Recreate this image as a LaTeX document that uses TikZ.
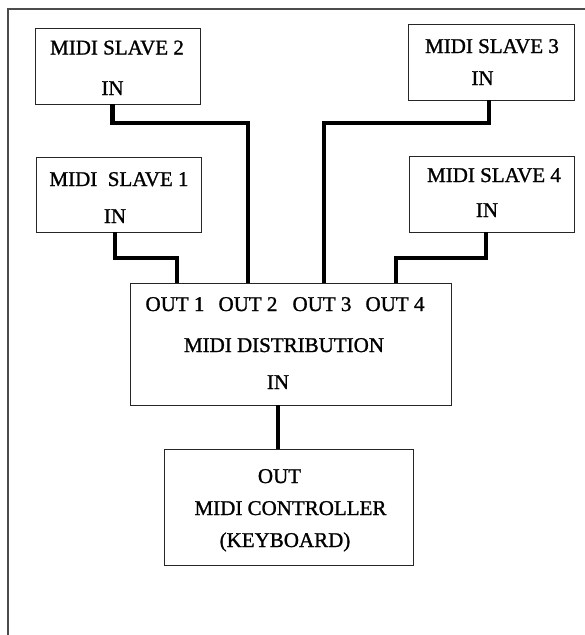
\documentclass[tikz,border=0pt]{standalone}
\usepackage{fontspec}
\setmainfont[FakeBold=1.2,BoldFont={Liberation Serif}]{Liberation Serif}
\begin{document}
\begin{tikzpicture}[x=1pt,y=-1pt,
  box/.style={draw=black!85,line width=1pt,inner sep=0pt,outer sep=0pt},
  lbl/.style={inner sep=0pt,outer sep=0pt,anchor=center,text height=14pt,text depth=0pt,
    font=\fontsize{21}{24}\selectfont\bfseries},
  wire/.style={line width=4.6pt,black},
  frame/.style={draw=black!70,line width=1.6pt}]
\useasboundingbox (0,0) rectangle (585,635);
\draw[frame] (8,635) -- (8,9) -- (585,9);
% boxes
\node[box,minimum width=165pt,minimum height=76pt] (s2) at (117.5,66) {};
\node[box,minimum width=165pt,minimum height=75pt] (s1) at (118.5,194.5) {};
\node[box,minimum width=166pt,minimum height=76pt] (s3) at (491,62) {};
\node[box,minimum width=165pt,minimum height=76pt] (s4) at (491.5,194) {};
\node[box,minimum width=321pt,minimum height=122pt] (dist) at (290.5,344) {};
\node[box,minimum width=249pt,minimum height=116pt] (ctrl) at (288.5,507) {};
% labels
\node[lbl] (s2t) at (117,47.5) {MIDI SLAVE 2};
\node[lbl] (s2in) at (112.5,88) {IN};
\node[lbl] (s1t) at (119,179) {MIDI\ \ SLAVE 1};
\node[lbl] (s1in) at (115,216) {IN};
\node[lbl] (s3t) at (492,46) {MIDI SLAVE 3};
\node[lbl] (s3in) at (482.5,78) {IN};
\node[lbl] (s4t) at (494,175) {MIDI SLAVE 4};
\node[lbl] (s4in) at (487,210) {IN};
\node[lbl] (o1) at (175,304) {OUT 1};
\node[lbl] (o2) at (248,304) {OUT 2};
\node[lbl] (o3) at (322,304) {OUT 3};
\node[lbl] (o4) at (395,304) {OUT 4};
\node[lbl] (dt) at (284,345) {MIDI DISTRIBUTION};
\node[lbl] (din) at (278,382) {IN};
\node[lbl] (cout) at (279.5,476) {OUT};
\node[lbl] (ct) at (290.5,508) {MIDI CONTROLLER};
\node[lbl] (ck) at (285,540) {(KEYBOARD)};
% wires
\draw[wire] (s2in |- s2.south) -- (s2in |- 0,123) -| (dist.north -| o2);
\draw[wire] (s1in |- s1.south) -- (s1in |- 0,258) -| ([xshift=2pt]dist.north -| o1);
\draw[wire] ([xshift=6.5pt]s3in |- s3.south) -- ([xshift=6.5pt]s3in |- 0,123) -| ([xshift=2pt]dist.north -| o3);
\draw[wire] ([xshift=-1pt]s4in |- s4.south) -- ([xshift=-1pt]s4in |- 0,258) -| ([xshift=1pt]dist.north -| o4);
\draw[wire] (din |- dist.south) -- (din |- ctrl.north);
\end{tikzpicture}
\end{document}
